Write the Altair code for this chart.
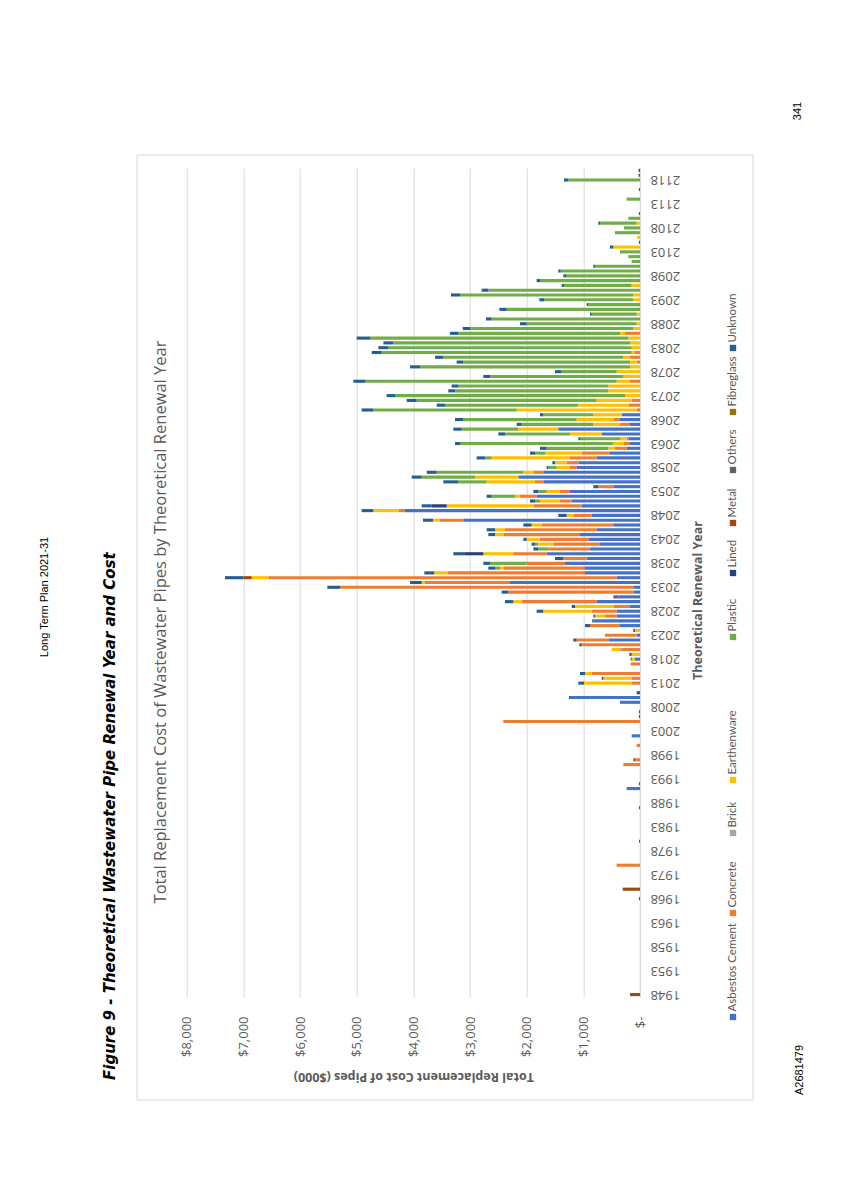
import altair as alt
import pandas as pd

# ---------------- data (values in $000) ----------------
MATERIALS = ["Asbestos Cement", "Concrete", "Brick", "Earthenware", "Plastic",
             "Lined", "Metal", "Others", "Fibreglass", "Unknown"]
COLORS = ["#4472C4", "#ED7D31", "#A5A5A5", "#FFC000", "#70AD47",
          "#264478", "#9E480E", "#636363", "#997300", "#255E91"]
FIRST_YEAR, LAST_YEAR = 1948, 2120

ASBESTOS_CEMENT = {
    1991: 235, 2002: 147, 2009: 353, 2010: 1235, 2018: 88, 2022: 559, 2023: 59,
    2025: 353, 2026: 824, 2027: 412, 2028: 412, 2029: 176, 2030: 765, 2031: 382,
    2032: 118, 2033: 118, 2034: 2294, 2035: 412, 2036: 971, 2037: 971, 2038: 1324,
    2039: 941, 2040: 1647, 2041: 882, 2042: 706, 2043: 912, 2044: 1059, 2045: 765,
    2046: 471, 2047: 3118, 2048: 853, 2049: 4147, 2050: 1029, 2051: 1206,
    2052: 1824, 2053: 1235, 2054: 471, 2055: 1706, 2056: 2147, 2057: 1706,
    2058: 1118, 2059: 1088, 2060: 765, 2061: 529, 2062: 235, 2063: 176, 2064: 206,
    2065: 676, 2066: 1441, 2067: 176, 2068: 353, 2069: 324,
}
CONCRETE = {
    1975: 412, 1996: 294, 1997: 88, 2000: 59, 2005: 2412, 2013: 147, 2014: 147,
    2015: 853, 2017: 165, 2020: 324, 2021: 1029, 2022: 559, 2023: 559, 2025: 529,
    2027: 206, 2028: 441, 2029: 294, 2030: 1324, 2032: 2206, 2033: 5176,
    2034: 1500, 2035: 6147, 2036: 2418, 2037: 1441, 2038: 676, 2039: 412,
    2040: 588, 2041: 735, 2042: 824, 2043: 853, 2044: 1353, 2045: 1618,
    2046: 1265, 2047: 412, 2048: 324, 2049: 118, 2050: 853, 2051: 206, 2052: 294,
    2053: 176, 2054: 265, 2055: 147, 2057: 176, 2058: 118, 2059: 206, 2060: 471,
    2061: 500, 2062: 206, 2063: 118, 2064: 29, 2067: 176, 2068: 118, 2070: 59,
    2071: 206, 2072: 147, 2076: 176, 2080: 59, 2081: 176, 2082: 88, 2086: 265,
}
BRICK = {2020: 29}
EARTHENWARE = {
    2013: 841, 2014: 500, 2015: 118, 2018: 59, 2019: 147, 2020: 147, 2024: 88,
    2027: 176, 2028: 853, 2029: 676, 2030: 147, 2034: 59, 2035: 294, 2036: 241,
    2037: 59, 2040: 529, 2042: 265, 2043: 235, 2044: 147, 2045: 176, 2046: 176,
    2047: 124, 2048: 118, 2049: 441, 2050: 1529, 2051: 353, 2052: 88, 2053: 235,
    2055: 853, 2056: 765, 2057: 176, 2058: 235, 2059: 206, 2060: 1382, 2061: 647,
    2062: 118, 2063: 176, 2064: 118, 2065: 559, 2066: 706, 2067: 471, 2068: 647,
    2069: 500, 2070: 2118, 2071: 882, 2072: 618, 2073: 265, 2074: 559, 2075: 559,
    2076: 235, 2077: 294, 2078: 412, 2079: 176, 2080: 118, 2081: 118, 2082: 59,
    2083: 147, 2084: 176, 2085: 206, 2086: 88, 2087: 118, 2088: 59, 2090: 59,
    2093: 118, 2094: 118, 2096: 147, 2104: 470, 2106: 47, 2109: 59,
}
PLASTIC = {
    2037: 88, 2038: 647, 2041: 176, 2042: 59, 2051: 88, 2052: 412, 2053: 147,
    2055: 500, 2056: 941, 2057: 1529, 2058: 147, 2060: 118, 2061: 176, 2062: 1088,
    2063: 2706, 2064: 706, 2065: 1147, 2066: 1000, 2067: 1265, 2068: 2000,
    2069: 882, 2070: 2529, 2071: 2353, 2072: 3176, 2073: 4059, 2074: 2706,
    2075: 2647, 2076: 4441, 2077: 2353, 2078: 971, 2079: 3706, 2080: 2941,
    2081: 3176, 2082: 4412, 2083: 4294, 2084: 4176, 2085: 4559, 2086: 2853,
    2087: 2882, 2088: 1941, 2089: 2618, 2090: 794, 2091: 2353, 2092: 912,
    2093: 1576, 2094: 3059, 2095: 2676, 2096: 1194, 2097: 1765, 2098: 1306,
    2099: 1400, 2100: 794, 2101: 147, 2102: 206, 2103: 353, 2107: 441, 2108: 282,
    2109: 647, 2110: 206, 2114: 235, 2118: 1265,
}
LINED = {2040: 324, 2050: 265}
METAL = {1948: 176, 1970: 306, 1997: 29, 2035: 147}
OTHERS = {2031: 88}
FIBREGLASS = {}
UNKNOWN = {
    1968: 18, 1980: 18, 1987: 18, 1992: 18, 2006: 18, 2007: 18, 2010: 18, 2011: 59,
    2013: 100, 2014: 29, 2015: 88, 2018: 18, 2019: 41, 2021: 41, 2022: 59, 2024: 29,
    2025: 88, 2026: 20, 2027: 29, 2028: 118, 2029: 59, 2030: 147, 2032: 118,
    2033: 224, 2034: 206, 2035: 324, 2036: 176, 2037: 118, 2038: 118, 2039: 147,
    2040: 206, 2041: 88, 2042: 59, 2043: 59, 2044: 118, 2045: 147, 2046: 147,
    2047: 176, 2048: 147, 2049: 206, 2050: 176, 2051: 88, 2052: 88, 2053: 88,
    2054: 88, 2055: 265, 2056: 176, 2057: 176, 2058: 29, 2059: 47, 2060: 147,
    2061: 88, 2062: 118, 2063: 88, 2064: 29, 2065: 118, 2066: 147, 2067: 88,
    2068: 147, 2069: 59, 2070: 206, 2071: 147, 2072: 176, 2073: 147, 2074: 118,
    2075: 118, 2076: 206, 2077: 118, 2078: 118, 2079: 176, 2080: 118, 2081: 147,
    2082: 176, 2083: 176, 2084: 176, 2085: 235, 2086: 147, 2087: 129, 2088: 118,
    2089: 100, 2090: 29, 2091: 129, 2092: 29, 2093: 82, 2094: 159, 2095: 118,
    2096: 41, 2097: 59, 2098: 47, 2099: 41, 2100: 29, 2104: 59, 2105: 20,
    2109: 29, 2111: 20, 2116: 20, 2118: 76, 2119: 25, 2120: 25,
}
SERIES = [ASBESTOS_CEMENT, CONCRETE, BRICK, EARTHENWARE, PLASTIC,
          LINED, METAL, OTHERS, FIBREGLASS, UNKNOWN]

YEAR_DOMAIN = list(range(LAST_YEAR, FIRST_YEAR - 1, -1))
YEAR_TICKS = list(range(1948, 2119, 5))
VALUE_TICKS = list(range(0, 8001, 1000))

rows = []
for i, (m, s) in enumerate(zip(MATERIALS, SERIES)):
    for yr, v in s.items():
        rows.append({"year": yr, "material": m, "idx": i, "value": v})
df = pd.DataFrame(rows)

# ---------------- layout (page is shown rotated) ----------------
PX0, PY0 = 186.7, 168.0      # page position of plot origin
W, H = 453.3, 829.0


def rx(x):
    return x - PX0


def ry(y):
    return y - PY0


GRAY = "#595959"
color_scale = alt.Scale(domain=MATERIALS, range=COLORS)

bars = alt.Chart(df).mark_bar().encode(
    y=alt.Y(
        "year:O",
        scale=alt.Scale(domain=YEAR_DOMAIN, paddingInner=0.35, paddingOuter=0.175),
        axis=alt.Axis(
            orient="right", values=YEAR_TICKS, labelAngle=180, labelAlign="right",
            labelBaseline="middle", labelPadding=10, labelFont="Open Sans",
            labelFontSize=13, labelColor=GRAY, labelOverlap=False, ticks=False,
            domainColor="#D9D9D9", grid=False,
            title="Theoretical Renewal Year", titleAngle=270, titleX=57, titleY=432,
            titleAlign="center", titleBaseline="middle", titleFont="Open Sans",
            titleFontSize=12.5, titleFontWeight="bold", titleColor=GRAY,
        ),
    ),
    x=alt.X(
        "value:Q", stack="zero",
        scale=alt.Scale(domain=[0, 8000], reverse=True, nice=False),
        axis=alt.Axis(
            values=VALUE_TICKS,
            labelExpr="datum.value == 0 ? '$-' : '$' + format(datum.value, ',')",
            labelAngle=270, labelAlign="right", labelBaseline="middle",
            labelPadding=19, labelFlush=False, labelFont="Open Sans",
            labelFontSize=13, labelColor=GRAY, labelOverlap=False,
            grid=True, gridColor="#D9D9D9", domain=False, ticks=False,
            title="Total Replacement Cost of Pipes ($000)", titleAngle=180,
            titleX=W / 2, titleY=79, titleAlign="center", titleBaseline="middle",
            titleFont="Open Sans", titleFontSize=12.5, titleFontWeight="bold",
            titleColor=GRAY,
        ),
    ),
    color=alt.Color("material:N", scale=color_scale, legend=None),
    order=alt.Order("idx:Q", sort="ascending"),
)

border = alt.Chart(pd.DataFrame({"a": [0]})).mark_rect(
    fillOpacity=0, stroke="#D9D9D9", strokeWidth=1
).encode(
    x=alt.value(rx(137)), x2=alt.value(rx(753)),
    y=alt.value(ry(155)), y2=alt.value(ry(1100)),
)

LEGEND_Y = [1017, 913, 833, 780, 637, 573, 523, 470, 412, 348]
leg_df = pd.DataFrame({
    "material": MATERIALS,
    "sy": [ry(v) for v in LEGEND_Y],
    "ty": [ry(v) - 5.5 for v in LEGEND_Y],
})
leg_squares = alt.Chart(leg_df).mark_square(size=40, opacity=1).encode(
    x=alt.value(rx(733)),
    y=alt.Y("sy:Q", scale=None),
    color=alt.Color("material:N", scale=color_scale, legend=None),
)
leg_text = alt.Chart(leg_df).mark_text(
    angle=270, align="left", baseline="middle", font="Lato",
    fontSize=11.5, color=GRAY,
).encode(
    x=alt.value(rx(733)),
    y=alt.Y("ty:Q", scale=None),
    text="material:N",
)


def label(text, x, y, size, font, color="#000000", align="center",
          weight="normal", style="normal"):
    return alt.Chart(pd.DataFrame({"t": [text]})).mark_text(
        angle=270, align=align, baseline="middle", font=font, fontSize=size,
        fontWeight=weight, fontStyle=style, color=color,
    ).encode(x=alt.value(rx(x)), y=alt.value(ry(y)), text="t:N")


texts = [
    label("Long Term Plan 2021-31", 45, 597, 11, "Liberation Sans"),
    label("Figure 9 - Theoretical Wastewater Pipe Renewal Year and Cost",
          110, 1080, 15, "DejaVu Sans", align="left", weight="bold",
          style="italic"),
    label("Total Replacement Cost of Wastewater Pipes by Theoretical Renewal Year",
          161, 622, 16.5, "Open Sans", color=GRAY),
    label("341", 798, 111, 11, "Liberation Sans"),
    label("A2681479", 800, 1070, 11, "Liberation Sans"),
]

chart = alt.layer(border, bars, leg_squares, leg_text, *texts).properties(
    width=W, height=H,
    autosize=alt.AutoSizeParams(type="none"),
    padding={"left": PX0 - 8, "top": PY0 - 8, "right": 188, "bottom": 180},
).configure_view(stroke="transparent")

chart.save("out.html", embed_options={"renderer": "svg", "actions": False})
